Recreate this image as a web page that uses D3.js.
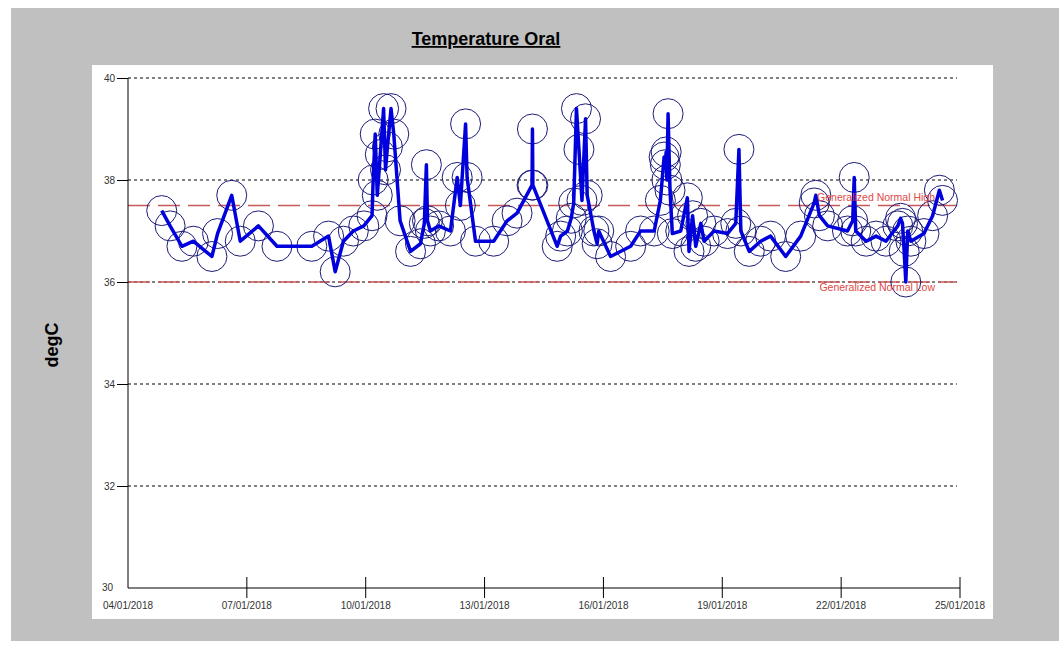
<!DOCTYPE html>
<html>
<head>
<meta charset="utf-8">
<script src="https://cdn.jsdelivr.net/npm/d3@7"></script>
<style>
  body { margin: 0; background: #ffffff; }
  svg { display: block; font-family: Arial, "Liberation Sans", sans-serif; }
</style>
</head>
<body>
<div id="chart"></div>
<script>
// 读数时间 (dd/mm/yyyy HH:MM)
const readingTimes = [
  '04/01/2018 20:25', '05/01/2018 01:30', '05/01/2018 08:40', '05/01/2018 15:35',
  '06/01/2018 02:50', '06/01/2018 06:15', '06/01/2018 14:50', '06/01/2018 20:00',
  '07/01/2018 07:00', '07/01/2018 18:15', '08/01/2018 15:20', '09/01/2018 01:30',
  '09/01/2018 05:30', '09/01/2018 10:30', '09/01/2018 16:30', '09/01/2018 22:50',
  '10/01/2018 03:50', '10/01/2018 04:30', '10/01/2018 05:45', '10/01/2018 07:00',
  '10/01/2018 08:50', '10/01/2018 10:50', '10/01/2018 12:00', '10/01/2018 13:10',
  '10/01/2018 15:20', '10/01/2018 17:00', '10/01/2018 20:50', '11/01/2018 03:10',
  '11/01/2018 09:10', '11/01/2018 11:30', '11/01/2018 12:45', '11/01/2018 13:25',
  '11/01/2018 15:10', '11/01/2018 20:10', '12/01/2018 03:20', '12/01/2018 07:25',
  '12/01/2018 09:20', '12/01/2018 12:30', '12/01/2018 13:25', '12/01/2018 18:30',
  '13/01/2018 05:30', '13/01/2018 13:40', '13/01/2018 19:40', '14/01/2018 04:45',
  '14/01/2018 05:00', '14/01/2018 05:15', '14/01/2018 20:00', '14/01/2018 22:05',
  '15/01/2018 02:10', '15/01/2018 04:30', '15/01/2018 06:00', '15/01/2018 07:40',
  '15/01/2018 09:10', '15/01/2018 11:00', '15/01/2018 13:10', '15/01/2018 14:10',
  '15/01/2018 18:15', '15/01/2018 20:10', '15/01/2018 21:10', '16/01/2018 04:20',
  '16/01/2018 16:30', '16/01/2018 22:30', '17/01/2018 06:45', '17/01/2018 10:30',
  '17/01/2018 12:45', '17/01/2018 13:30', '17/01/2018 14:00', '17/01/2018 14:25',
  '17/01/2018 15:10', '17/01/2018 16:20', '17/01/2018 17:45', '17/01/2018 22:50',
  '18/01/2018 02:50', '18/01/2018 03:50', '18/01/2018 06:00', '18/01/2018 07:55',
  '18/01/2018 11:00', '18/01/2018 13:00', '18/01/2018 19:00', '19/01/2018 03:10',
  '19/01/2018 08:10', '19/01/2018 10:05', '19/01/2018 11:15', '19/01/2018 16:20',
  '19/01/2018 23:15', '20/01/2018 05:15', '20/01/2018 14:25', '20/01/2018 23:30',
  '21/01/2018 07:40', '21/01/2018 08:40', '21/01/2018 10:50', '21/01/2018 15:50',
  '22/01/2018 03:50', '22/01/2018 07:00', '22/01/2018 07:55', '22/01/2018 08:50',
  '22/01/2018 15:10', '22/01/2018 21:10', '23/01/2018 03:10', '23/01/2018 10:20',
  '23/01/2018 12:00', '23/01/2018 13:10', '23/01/2018 14:10', '23/01/2018 15:10',
  '23/01/2018 16:20', '23/01/2018 18:15', '24/01/2018 02:10', '24/01/2018 07:25',
  '24/01/2018 11:30', '24/01/2018 13:25'
];

// 体温读数 (degC)
const temperatures = [
  37.4, 37.1, 36.7, 36.8,
  36.5, 36.95, 37.7, 36.8,
  37.1, 36.7, 36.7, 36.9,
  36.2, 36.8, 37.0, 37.1,
  37.3, 38.0, 38.9, 37.7,
  38.5, 39.4, 38.2, 38.65,
  39.4, 38.9, 37.2, 36.6,
  36.75, 37.15, 38.3, 37.2,
  37.0, 37.1, 37.0, 38.05,
  37.5, 39.1, 38.05, 36.8,
  36.8, 37.2, 37.35, 37.9,
  39.0, 37.9, 36.7, 36.9,
  37.0, 37.25, 37.55, 39.4,
  38.6, 37.6, 39.2, 37.7,
  37.0, 36.75, 37.0, 36.5,
  36.7, 37.0, 37.0, 37.6,
  38.45, 38.3, 38.55, 38.0,
  39.3, 37.8, 36.95, 37.0,
  37.65, 36.6, 37.3, 36.7,
  37.15, 36.8, 37.0, 36.95,
  37.15, 38.6, 37.0, 36.6,
  36.8, 36.9, 36.5, 36.9,
  37.55, 37.7, 37.3, 37.1,
  37.0, 37.2, 38.05, 37.0,
  36.8, 36.9, 36.8, 37.1,
  37.25, 37.15, 36.6, 36.0,
  37.0, 36.8, 36.95, 37.3,
  37.8, 37.6
];

const yTickValues = [40, 38, 36, 34, 32, 30];
const xTickLabels = ['04/01/2018', '07/01/2018', '10/01/2018', '13/01/2018',
  '16/01/2018', '19/01/2018', '22/01/2018', '25/01/2018'];
const refLineValues = [37.5, 36.0];
const refLineNames = ['Generalized Normal High', 'Generalized Normal Low'];

const width = 1059;
const height = 646;
const plotLeft = 128, plotRight = 960, plotTop = 78, plotBottom = 588;

const parseTime = d3.timeParse('%d/%m/%Y %H:%M');
const parseDay = d3.timeParse('%d/%m/%Y');

const points = readingTimes.map((t, i) => ({ time: parseTime(t), value: temperatures[i] }));
const xTicks = xTickLabels.map(parseDay);

const x = d3.scaleTime()
  .domain([xTicks[0], xTicks[xTicks.length - 1]])
  .range([plotLeft, plotRight]);
const y = d3.scaleLinear().domain([30, 40]).range([plotBottom, plotTop]);

const svg = d3.select('#chart')
  .append('svg')
  .attr('width', width)
  .attr('height', height);

// 灰色背景和白色绘图区
svg.append('rect')
  .attr('x', 11).attr('y', 8)
  .attr('width', width - 11).attr('height', 633)
  .attr('fill', '#c0c0c0');
svg.append('rect')
  .attr('x', 92).attr('y', 65)
  .attr('width', 901).attr('height', 554)
  .attr('fill', '#ffffff');

// 标题
svg.append('text')
  .attr('x', 486).attr('y', 45)
  .attr('text-anchor', 'middle')
  .attr('font-size', 18)
  .attr('font-weight', 'bold')
  .attr('text-decoration', 'underline')
  .attr('fill', '#000')
  .text('Temperature Oral');

svg.append('text')
  .attr('transform', 'translate(58,345) rotate(-90)')
  .attr('text-anchor', 'middle')
  .attr('font-size', 18)
  .attr('font-weight', 'bold')
  .attr('fill', '#000')
  .text('degC');

// 网格线 (虚点)
svg.append('g')
  .selectAll('line')
  .data(yTickValues.filter(v => v > 30))
  .enter()
  .append('line')
  .attr('x1', plotLeft).attr('x2', 957)
  .attr('y1', d => y(d)).attr('y2', d => y(d))
  .attr('stroke', '#000')
  .attr('stroke-width', 1)
  .attr('stroke-dasharray', '3,3');

// 参考线
svg.append('g')
  .selectAll('line')
  .data(refLineValues)
  .enter()
  .append('line')
  .attr('x1', plotLeft).attr('x2', 957)
  .attr('y1', d => y(d)).attr('y2', d => y(d))
  .attr('stroke', '#c85a5a')
  .attr('stroke-width', 1.5)
  .attr('stroke-dasharray', '22,8');

// Y 轴
const yAxis = d3.axisLeft(y)
  .tickValues(yTickValues.filter(v => v > 30))
  .tickSize(11)
  .tickPadding(2);
const yg = svg.append('g')
  .attr('transform', `translate(${plotLeft},0)`)
  .call(yAxis);
yg.select('.domain').remove();
yg.selectAll('text').attr('font-size', 10).attr('fill', '#333').attr('font-family', 'Arial, "Liberation Sans", sans-serif');
svg.append('line')
  .attr('x1', plotLeft).attr('x2', plotLeft)
  .attr('y1', plotTop).attr('y2', plotBottom)
  .attr('stroke', '#000');
svg.append('text')
  .attr('x', 113).attr('y', plotBottom + 3)
  .attr('text-anchor', 'end')
  .attr('font-size', 10)
  .attr('fill', '#333')
  .text(yTickValues[yTickValues.length - 1]);

// X 轴
svg.append('line')
  .attr('x1', plotLeft).attr('x2', plotRight)
  .attr('y1', plotBottom).attr('y2', plotBottom)
  .attr('stroke', '#000');
const xg = svg.append('g');
xg.selectAll('line')
  .data(xTicks.slice(1))
  .enter()
  .append('line')
  .attr('x1', d => x(d)).attr('x2', d => x(d))
  .attr('y1', plotBottom - 11).attr('y2', plotBottom + 10)
  .attr('stroke', '#000');
xg.selectAll('text')
  .data(xTicks)
  .enter()
  .append('text')
  .attr('x', d => x(d))
  .attr('y', plotBottom + 21)
  .attr('text-anchor', 'middle')
  .attr('font-size', 10)
  .attr('fill', '#333')
  .text(d => d3.timeFormat('%d/%m/%Y')(d));

// 数据圆圈
svg.append('g')
  .selectAll('circle')
  .data(points)
  .enter()
  .append('circle')
  .attr('cx', d => x(d.time))
  .attr('cy', d => y(d.value))
  .attr('r', 15)
  .attr('fill', 'none')
  .attr('stroke', '#1c1c78')
  .attr('stroke-width', 1);

// 数据线
svg.append('path')
  .datum(points)
  .attr('d', d3.line().x(d => x(d.time)).y(d => y(d.value)))
  .attr('fill', 'none')
  .attr('stroke', '#0000dc')
  .attr('stroke-width', 3.5)
  .attr('stroke-linejoin', 'round');

// 参考线标签
svg.append('g')
  .selectAll('text')
  .data(refLineValues)
  .enter()
  .append('text')
  .attr('x', 935)
  .attr('y', (d, i) => i === 0 ? y(d) - 5 : y(d) + 9)
  .attr('text-anchor', 'end')
  .attr('font-size', 10.5)
  .attr('fill', '#e04848')
  .text((d, i) => refLineNames[i]);
</script>
</body>
</html>
